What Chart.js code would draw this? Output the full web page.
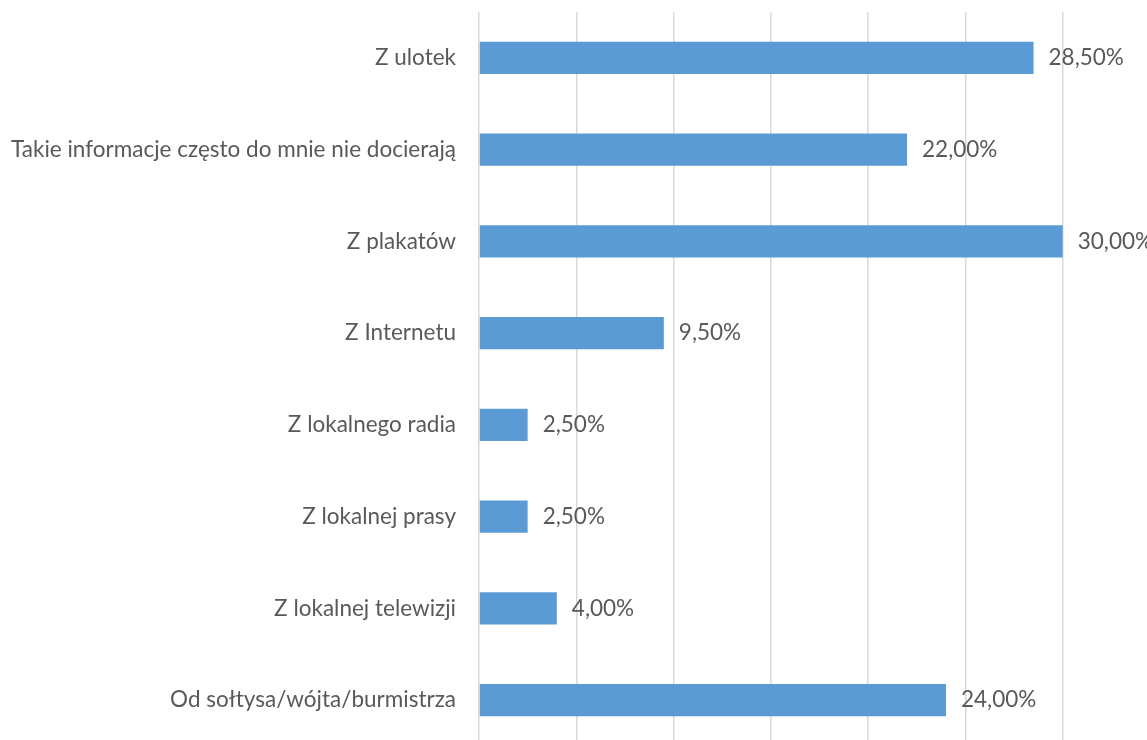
<!DOCTYPE html>
<html>
<head>
<meta charset="utf-8">
<script src="https://cdn.jsdelivr.net/npm/chart.js@4/dist/chart.umd.min.js"></script>
<style>
html,body{margin:0;padding:0;overflow:hidden;background:#fff;width:1147px;height:740px;}
canvas{display:block;}
</style>
</head>
<body>
<canvas id="c" width="1160" height="746"></canvas>
<script>
const categories = [
  "Z ulotek",
  "Takie informacje często do mnie nie docierają",
  "Z plakatów",
  "Z Internetu",
  "Z lokalnego radia",
  "Z lokalnej prasy",
  "Z lokalnej telewizji",
  "Od sołtysa/wójta/burmistrza"
];
const values = [28.5, 22.0, 30.0, 9.5, 2.5, 2.5, 4.0, 24.0];
const axisMin = 0;
const axisMax = 35;
const axisStep = 5;

const FONT = "Lato, 'Open Sans', sans-serif";
const TEXT = "#595959";

const valueLabels = {
  id: 'valueLabels',
  afterDatasetsDraw(chart) {
    const ctx = chart.ctx;
    const meta = chart.getDatasetMeta(0);
    ctx.save();
    ctx.font = "22.5px " + FONT;
    ctx.fillStyle = TEXT;
    ctx.textAlign = 'left';
    ctx.textBaseline = 'middle';
    meta.data.forEach((bar, i) => {
      const txt = values[i].toFixed(2).replace('.', ',') + '%';
      ctx.fillText(txt, bar.x + 15, bar.y);
    });
    ctx.restore();
  }
};

new Chart(document.getElementById('c'), {
  type: 'bar',
  data: {
    labels: categories,
    datasets: [{
      data: values,
      backgroundColor: '#5b9bd5',
      borderWidth: 0,
      barPercentage: 0.35,
      categoryPercentage: 1.0
    }]
  },
  plugins: [valueLabels],
  options: {
    indexAxis: 'y',
    responsive: false,
    animation: false,
    layout: { padding: { top: 12, left: 0, right: 0, bottom: 0 } },
    plugins: { legend: { display: false }, tooltip: { enabled: false } },
    scales: {
      x: {
        min: axisMin, max: axisMax,
        ticks: { display: false, stepSize: axisStep },
        grid: { color: '#d9d9d9', lineWidth: 1.5, drawTicks: false },
        border: { display: false },
        afterFit(scale) { scale.height = 0; scale.paddingLeft = 0; scale.paddingRight = 0; }
      },
      y: {
        grid: { display: false, drawTicks: false },
        border: { display: false },
        ticks: { color: TEXT, font: { family: FONT, size: 22.5 }, padding: 23 },
        afterFit(scale) { scale.width = 479; scale.paddingTop = 0; scale.paddingBottom = 0; }
      }
    }
  }
});
</script>
</body>
</html>
